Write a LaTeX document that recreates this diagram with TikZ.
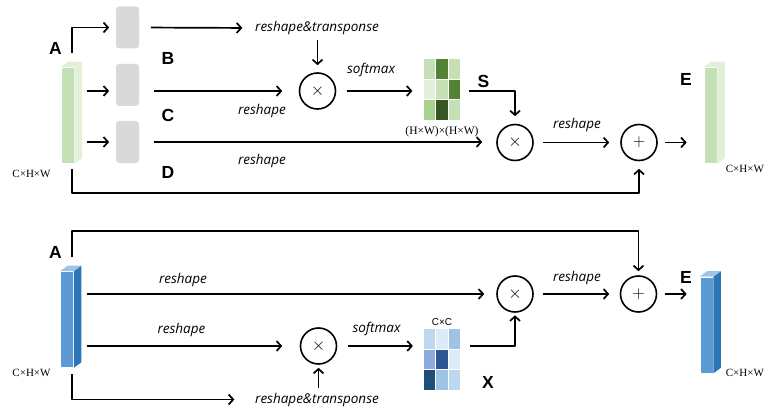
\documentclass[tikz,border=0pt]{standalone}
\usepackage{fontspec}
\setmainfont{Liberation Serif}
\newfontfamily\labfont{Open Sans}
\newfontfamily\letfont{Liberation Sans}
\usetikzlibrary{arrows.meta,calc}

\definecolor{boxgray}{HTML}{D9D9D9}
\definecolor{gfront}{HTML}{C5E0B4}
\definecolor{gside}{HTML}{E2F0D9}
\definecolor{bfront}{HTML}{5B9BD5}
\definecolor{bside}{HTML}{2E75B6}
\definecolor{btop}{HTML}{9DC3E6}
\definecolor{g1}{HTML}{E2EFDA}
\definecolor{g2}{HTML}{C5E0B4}
\definecolor{g3}{HTML}{A9D18E}
\definecolor{g4}{HTML}{548235}
\definecolor{g5}{HTML}{375623}
\definecolor{b1}{HTML}{DDEBF7}
\definecolor{b2}{HTML}{BDD7EE}
\definecolor{b3}{HTML}{9DC3E6}
\definecolor{b4}{HTML}{8EA9DB}
\definecolor{b5}{HTML}{2F5597}
\definecolor{b6}{HTML}{1F4E79}

\begin{document}
\begin{tikzpicture}[x=1pt, y=-1pt, line width=1.7pt, line join=round,
  arr/.style={-{Straight Barb[length=4.5pt,width=10pt]}},
  op/.style={circle, draw, line width=1.6pt, minimum size=36pt, inner sep=0pt, font=\fontsize{19}{19}\selectfont},
  lbl/.style={font=\labfont\itshape\fontsize{13.5}{15}\selectfont, inner sep=1pt},
  tag/.style={font=\letfont\bfseries\fontsize{17.5}{18}\selectfont, inner sep=0pt},
  dim/.style={font=\fontsize{11}{12}\selectfont, inner sep=0pt},
  conv/.style={fill=boxgray, rounded corners=3pt, minimum width=23pt, minimum height=42pt, inner sep=0pt},
  front/.style={minimum width=12pt, minimum height=95pt, inner sep=0pt},
  attn/.style={minimum width=37.5pt, minimum height=62pt, inner sep=0pt}]

  %% ════ position branch (top) ════
  \node[front, fill=gfront] (barA) at (67.5,115.5) {};
  \node[front, fill=gfront] (barE) at (710.5,115.5) {};
  \node[conv] (B) at (127.5,27.5) {};
  \node[conv] (C) at (127.5,85) {};
  \node[conv] (D) at (127.5,142) {};
  \node[op] (m1) at (317.5,91) {$\times$};
  \node[op] (m2) at (515,142.5) {$\times$};
  \node[op] (p1) at (639,142.5) {$+$};
  \node[attn] (S) at (442.5,90) {};

  %% ════ channel branch (bottom) ════
  \node[front, fill=bfront] (barA2) at (67,319.5) {};
  \node[front, fill=bfront] (barE2) at (706.5,325) {};
  \node[op] (m3) at (318.5,346) {$\times$};
  \node[op] (m4) at (515,294) {$\times$};
  \node[op] (p2) at (638.5,294) {$+$};
  \node[attn] (X) at (442.5,360) {};

  %% ════ cuboid faces ════
  \foreach \b/\sc/\tc in {barA/gside/gside, barE/gside/gside, barA2/bside/btop, barE2/bside/btop}{
    \fill[\sc] (\b.north east) -- ++(7.5,-5.5) -- ($(\b.south east)+(7.5,-5.5)$) -- (\b.south east) -- cycle;
    \fill[\tc] (\b.north west) -- ++(7.5,-5.5) -- ($(\b.north east)+(7.5,-5.5)$) -- (\b.north east) -- cycle;
  }

  %% ════ attention maps ════
  \foreach \clr [count=\i from 0] in {g2,g4,g2,g1,g2,g4,g3,g5,g2}{
    \pgfmathtruncatemacro\cc{mod(\i,3)}
    \pgfmathtruncatemacro\rr{div(\i,3)}
    \filldraw[fill=\clr, draw=white, line width=0.6pt] ($(S.north west)+(\cc*12.5,\rr*20.67)$) rectangle ++(12.5,20.67);
  }
  \foreach \clr [count=\i from 0] in {b2,b1,b3,b4,b5,b1,b6,b3,b2}{
    \pgfmathtruncatemacro\cc{mod(\i,3)}
    \pgfmathtruncatemacro\rr{div(\i,3)}
    \filldraw[fill=\clr, draw=white, line width=0.6pt] ($(X.north west)+(\cc*12.5,\rr*20.67)$) rectangle ++(12.5,20.67);
  }

  %% ════ labels ════
  \node[tag] (tA)  at (55.5,48.5) {A};
  \node[tag] (tB)  at (168,58) {B};
  \node[tag] (tC)  at (168,115) {C};
  \node[tag] (tD)  at (168,172) {D};
  \node[tag] (tS)  at (483.5,81.5) {S};
  \node[tag] (tE)  at (686,79.5) {E};
  \node[tag] (tA2) at (55.5,252) {A};
  \node[tag] (tE2) at (686,277.5) {E};
  \node[tag] (tX)  at (488,382) {X};

  \node[dim] (dA)  at (31.5,173.5) {C×H×W};
  \node[dim, anchor=west] (dE) at (725,169) {C×H×W};
  \node[dim] (dA2) at (31.5,373) {C×H×W};
  \node[dim, anchor=west] (dE2) at (725,372.5) {C×H×W};
  \node[dim, font=\fontsize{11.5}{12}\selectfont] (dS) at (442,132) {(H×W)×(H×W)};
  \node[dim, font=\letfont\fontsize{10}{12}\selectfont] (dX) at (442,322) {C×C};

  \node[lbl] (tt1) at (317,28) {reshape\&transponse};
  \node[lbl] (sm1) at (371,70) {softmax};
  \node[lbl] (rC)  at (262,111) {reshape};
  \node[lbl] (rD)  at (262,161) {reshape};
  \node[lbl] (rS)  at (577,124.5) {reshape};
  \node[lbl] (r1)  at (183,279.5) {reshape};
  \node[lbl] (r2)  at (181.5,329.5) {reshape};
  \node[lbl] (sm2) at (376.5,329) {softmax};
  \node[lbl] (rX)  at (577,277.5) {reshape};
  \node[lbl] (tt2) at (317,400) {reshape\&transponse};

  %% ════ connectors (top) ════
  \coordinate (a1) at (72,53);
  \coordinate (a2) at (72,169);
  \coordinate (rowB) at (0,193);
  \draw[arr, shorten >=6pt] (a1) |- (B);
  \draw[arr, shorten <=12.5pt, shorten >=6pt] (barA.east |- m1) -- (C.west |- m1);
  \draw[arr, shorten <=12.5pt, shorten >=6pt] (barA.east |- D) -- (D.west);
  \draw[arr, shorten <=11pt, shorten >=11pt] (B.east) -- (tt1.west);
  \draw[arr, shorten <=3.5pt, shorten >=7pt] (m1 |- tt1.south) -- (m1);
  \draw[arr, shorten <=14pt, shorten >=16.5pt] (C.east |- m1) -- (m1);
  \draw[arr, shorten <=10.5pt, shorten >=10.5pt] (m1) -- (S.west |- m1);
  \draw[arr, shorten <=7pt, shorten >=7.5pt] (S.east |- m1) -| (m2);
  \draw[arr, shorten <=14pt, shorten >=14pt] (D.east) -- (D.east -| m2.west);
  \draw[arr, shorten <=9pt, shorten >=11pt] (m2) -- (p1);
  \draw[arr, shorten <=7pt, shorten >=17pt] (p1) -- (p1 -| barE.west);
  \draw[arr, shorten >=7.5pt] (a2) -- (a2 |- rowB) -| (p1);

  %% ════ connectors (bottom) ════
  \coordinate (a3) at (72,256.5);
  \coordinate (a4) at (72,374);
  \coordinate (rowT) at (0,231);
  \coordinate (rowL) at (0,399.5);
  \draw[arr, shorten >=4pt] (a3) -- (a3 |- rowT) -| (p2);
  \draw[arr, shorten <=13pt, shorten >=12pt] (barA2.east |- m4) -- (m4);
  \draw[arr, shorten <=13pt, shorten >=17.5pt] (barA2.east |- m3) -- (m3);
  \draw[arr, shorten >=19pt] (a4) -- (a4 |- rowL) -- (tt2.west |- rowL);
  \draw[arr, shorten <=3pt, shorten >=3pt] (m3 |- tt2.north) -- (m3);
  \draw[arr, shorten <=10.5pt, shorten >=10pt] (m3) -- (X.west |- m3);
  \draw[arr, shorten <=8pt, shorten >=2.5pt] (X.east |- m3) -| (m4);
  \draw[arr, shorten <=9pt, shorten >=10.5pt] (m4) -- (p2);
  \draw[arr, shorten <=7.5pt, shorten >=13pt] (p2) -- (p2 -| barE2.west);

  \pgfresetboundingbox
  \path[use as bounding box] (0,0) rectangle (764,412);
\end{tikzpicture}
\end{document}
